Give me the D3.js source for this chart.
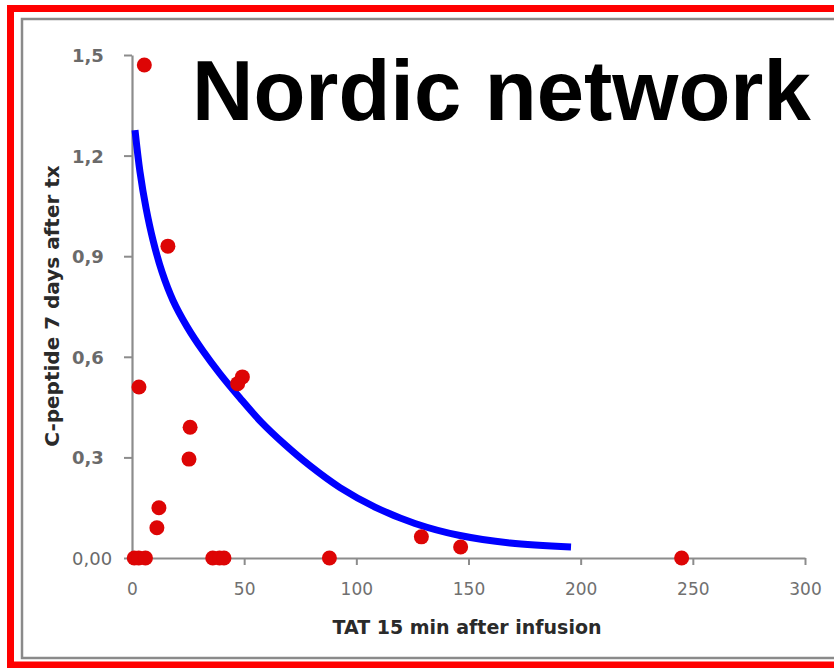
<!DOCTYPE html>
<html>
<head>
<meta charset="utf-8">
<script src="https://cdn.jsdelivr.net/npm/d3@7"></script>
<style>
  html, body { margin: 0; padding: 0; background: #ffffff; }
  svg { display: block; }
</style>
</head>
<body>
<svg id="chart" width="834" height="668"></svg>
<script>
// ---- data ----
const titleText = "Nordic network";
const xAxisTitle = "TAT 15 min after infusion";
const yAxisTitle = "C-peptide 7 days after tx";

const xTickValues = [0, 50, 100, 150, 200, 250, 300];
const xTickLabels = ["0", "50", "100", "150", "200", "250", "300"];
const yTickValues = [0, 0.3, 0.6, 0.9, 1.2, 1.5];
const yTickLabels = ["0,00", "0,3", "0,6", "0,9", "1,2", "1,5"];

// observed points (TAT, C-peptide)
const tatValues =      [5.5, 16, 3.1, 49.2, 47.1, 25.9, 25.4, 12, 11.1, 1, 3, 6, 36, 39, 41, 88, 129, 146.5, 245];
const cpeptideValues = [1.47, 0.93, 0.51, 0.54, 0.52, 0.39, 0.295, 0.15, 0.09, 0, 0, 0, 0, 0, 0, 0, 0.063, 0.033, 0];

// fitted trend line
const fitTat =      [1.34, 3.57, 6.24, 9.36, 13.37, 18.28, 24.52, 31.65, 39.23, 48.14, 57.95, 68.2, 79.35, 92.72, 108.3, 126.15, 146.2, 168.5, 195.7];
const fitCpeptide = [1.276, 1.151, 1.044, 0.948, 0.853, 0.768, 0.690, 0.617, 0.549, 0.477, 0.403, 0.338, 0.275, 0.210, 0.152, 0.103, 0.067, 0.045, 0.033];

// ---- layout ----
const svg = d3.select("#chart");
const x = d3.scaleLinear().domain([0, 300]).range([132, 805]);
const y = d3.scaleLinear().domain([0, 1.5]).range([558, 55]);

// frames
svg.append("rect").attr("x", 10.5).attr("y", 8.5).attr("width", 900).attr("height", 656.5)
  .attr("fill", "none").attr("stroke", "#ff0000").attr("stroke-width", 7);
svg.append("rect").attr("x", 22).attr("y", 19).attr("width", 900).attr("height", 639)
  .attr("fill", "#ffffff").attr("stroke", "#8a8a8a").attr("stroke-width", 2.5);

// axes
const xAxis = svg.append("g").attr("transform", "translate(0,558)")
  .call(d3.axisBottom(x).tickValues(xTickValues).tickFormat((d, i) => xTickLabels[i]).tickSizeInner(7).tickSizeOuter(0));
const yAxis = svg.append("g").attr("transform", "translate(132,0)")
  .call(d3.axisLeft(y).tickValues(yTickValues).tickFormat((d, i) => yTickLabels[i]).tickSizeInner(8).tickSizeOuter(0));

[xAxis, yAxis].forEach(g => {
  g.select(".domain").attr("stroke", "#8c8c8c").attr("stroke-width", 2.2);
  g.selectAll(".tick line").attr("stroke", "#8c8c8c").attr("stroke-width", 2);
});
xAxis.selectAll(".tick text")
  .attr("y", 37).attr("dy", 0)
  .attr("font-family", "DejaVu Sans, sans-serif").attr("font-size", 17)
  .attr("fill", "#707070");
yAxis.selectAll(".tick text")
  .attr("x", -60).attr("text-anchor", "start").attr("dy", "0.36em")
  .attr("font-family", "DejaVu Sans, sans-serif").attr("font-size", 18)
  .attr("font-weight", (d, i) => i === 0 ? "normal" : "bold")
  .attr("fill", "#6a6a6a");

// axis titles
svg.append("text").attr("x", 467).attr("y", 627).attr("dy", "0.35em")
  .attr("text-anchor", "middle")
  .attr("font-family", "DejaVu Sans, sans-serif").attr("font-weight", "bold").attr("font-size", 19)
  .attr("fill", "#2a2a2a").text(xAxisTitle);
svg.append("text").attr("transform", "translate(52,306) rotate(-90)").attr("dy", "0.35em")
  .attr("text-anchor", "middle")
  .attr("font-family", "DejaVu Sans, sans-serif").attr("font-weight", "bold").attr("font-size", 20)
  .attr("fill", "#2a2a2a").text(yAxisTitle);

// fitted curve
const fitData = fitTat.map((t, i) => [t, fitCpeptide[i]]);
svg.append("path").datum(fitData)
  .attr("fill", "none").attr("stroke", "#0000ff").attr("stroke-width", 7)
  .attr("d", d3.line().x(d => x(d[0])).y(d => y(d[1])).curve(d3.curveCatmullRom.alpha(0.5)));

// points
const pts = tatValues.map((t, i) => [t, cpeptideValues[i]]);
svg.append("g").selectAll("circle").data(pts).join("circle")
  .attr("cx", d => x(d[0])).attr("cy", d => y(d[1])).attr("r", 7.5)
  .attr("fill", "#dd0505");

// title
svg.append("text").attr("x", 192).attr("y", 120)
  .attr("font-family", "Liberation Sans, Arial, sans-serif").attr("font-weight", "bold").attr("font-size", 85)
  .attr("fill", "#000000").text(titleText);
</script>
</body>
</html>
